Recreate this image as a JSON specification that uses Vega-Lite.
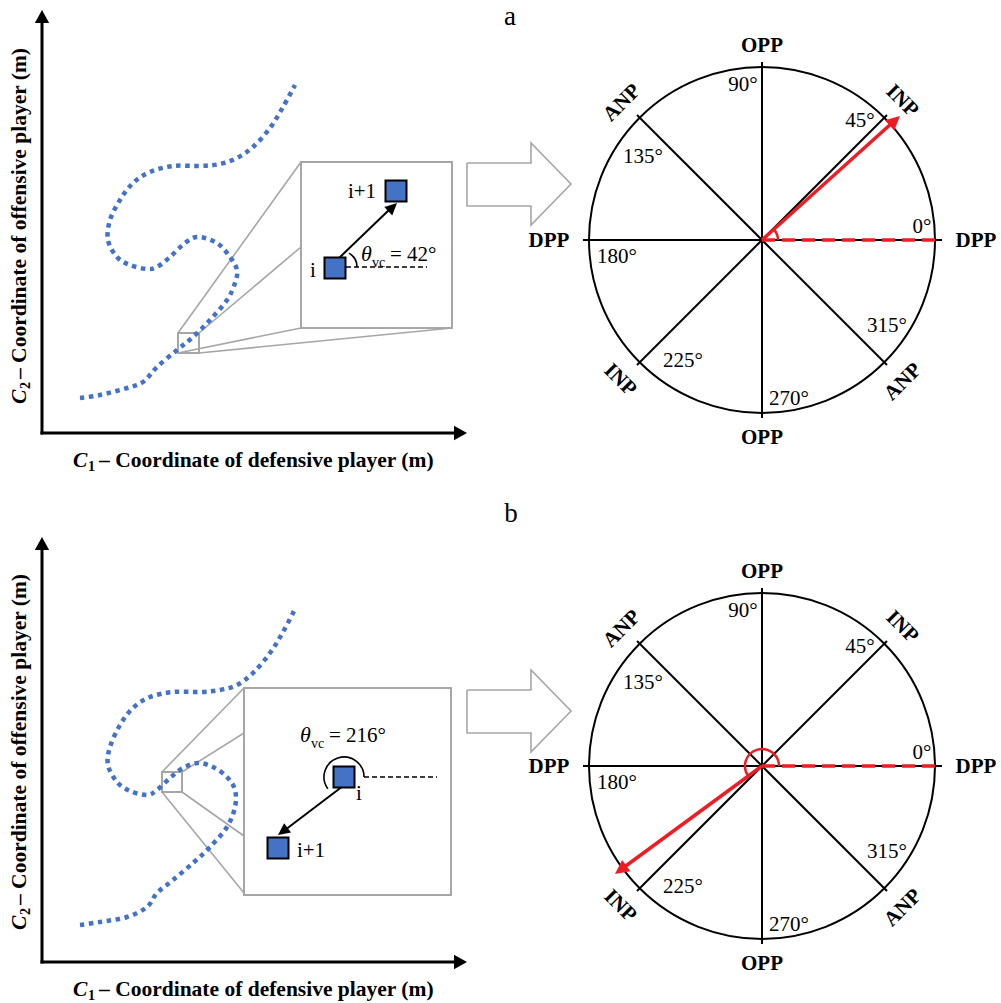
{
  "$schema": "https://vega.github.io/schema/vega-lite/v6.json",
  "width": 1001,
  "height": 1003,
  "autosize": {"type": "fit", "contains": "padding"},
  "padding": 0,
  "background": "white",
  "config": {"view": {"stroke": null}},
  "datasets": {
    "harrow": [
      {"panel": "a", "o": 0, "x": 467, "y": 163}, {"panel": "a", "o": 1, "x": 531, "y": 163}, {"panel": "a", "o": 2, "x": 531, "y": 143}, {"panel": "a", "o": 3, "x": 571, "y": 184}, {"panel": "a", "o": 4, "x": 531, "y": 225}, {"panel": "a", "o": 5, "x": 531, "y": 206}, {"panel": "a", "o": 6, "x": 467, "y": 206}, {"panel": "a", "o": 7, "x": 467, "y": 163},
      {"panel": "b", "o": 0, "x": 467, "y": 690}, {"panel": "b", "o": 1, "x": 531, "y": 690}, {"panel": "b", "o": 2, "x": 531, "y": 670}, {"panel": "b", "o": 3, "x": 571, "y": 711}, {"panel": "b", "o": 4, "x": 531, "y": 752}, {"panel": "b", "o": 5, "x": 531, "y": 733}, {"panel": "b", "o": 6, "x": 467, "y": 733}, {"panel": "b", "o": 7, "x": 467, "y": 690}
    ],
    "conn": [
      {"x": 178, "y": 333, "x2": 301, "y2": 162}, {"x": 199, "y": 333, "x2": 301, "y2": 247}, {"x": 178, "y": 353, "x2": 301, "y2": 328}, {"x": 199, "y": 353, "x2": 452, "y2": 328},
      {"x": 162, "y": 772, "x2": 244, "y2": 688}, {"x": 182, "y": 772, "x2": 244, "y2": 733}, {"x": 182, "y": 792, "x2": 244, "y2": 836}, {"x": 162, "y": 792, "x2": 244, "y2": 893}
    ],
    "boxes": [
      {"x": 178, "y": 333, "x2": 199, "y2": 353}, {"x": 301, "y": 162, "x2": 452, "y2": 328},
      {"x": 162, "y": 772, "x2": 182, "y2": 792}, {"x": 244, "y": 688, "x2": 451, "y2": 895}
    ],
    "curve": [
      {"panel": "a", "o": 0, "x": 80, "y": 398}, {"panel": "a", "o": 1, "x": 100, "y": 395}, {"panel": "a", "o": 2, "x": 127, "y": 388}, {"panel": "a", "o": 3, "x": 143, "y": 382}, {"panel": "a", "o": 4, "x": 157, "y": 367}, {"panel": "a", "o": 5, "x": 177, "y": 350}, {"panel": "a", "o": 6, "x": 193, "y": 337}, {"panel": "a", "o": 7, "x": 210, "y": 320}, {"panel": "a", "o": 8, "x": 227, "y": 300}, {"panel": "a", "o": 9, "x": 235, "y": 283}, {"panel": "a", "o": 10, "x": 237, "y": 270}, {"panel": "a", "o": 11, "x": 230, "y": 257}, {"panel": "a", "o": 12, "x": 217, "y": 243}, {"panel": "a", "o": 13, "x": 198, "y": 237}, {"panel": "a", "o": 14, "x": 185, "y": 243}, {"panel": "a", "o": 15, "x": 170, "y": 257}, {"panel": "a", "o": 16, "x": 157, "y": 267}, {"panel": "a", "o": 17, "x": 147, "y": 269}, {"panel": "a", "o": 18, "x": 130, "y": 265}, {"panel": "a", "o": 19, "x": 117, "y": 257}, {"panel": "a", "o": 20, "x": 108, "y": 240}, {"panel": "a", "o": 21, "x": 110, "y": 220}, {"panel": "a", "o": 22, "x": 120, "y": 200}, {"panel": "a", "o": 23, "x": 133, "y": 183}, {"panel": "a", "o": 24, "x": 150, "y": 172}, {"panel": "a", "o": 25, "x": 173, "y": 166}, {"panel": "a", "o": 26, "x": 200, "y": 166}, {"panel": "a", "o": 27, "x": 220, "y": 164}, {"panel": "a", "o": 28, "x": 237, "y": 158}, {"panel": "a", "o": 29, "x": 253, "y": 147}, {"panel": "a", "o": 30, "x": 270, "y": 128}, {"panel": "a", "o": 31, "x": 283, "y": 107}, {"panel": "a", "o": 32, "x": 295, "y": 85},
      {"panel": "b", "o": 0, "x": 80, "y": 925}, {"panel": "b", "o": 1, "x": 100, "y": 922}, {"panel": "b", "o": 2, "x": 127, "y": 917}, {"panel": "b", "o": 3, "x": 147, "y": 907}, {"panel": "b", "o": 4, "x": 157, "y": 893}, {"panel": "b", "o": 5, "x": 173, "y": 880}, {"panel": "b", "o": 6, "x": 193, "y": 863}, {"panel": "b", "o": 7, "x": 210, "y": 847}, {"panel": "b", "o": 8, "x": 227, "y": 827}, {"panel": "b", "o": 9, "x": 235, "y": 807}, {"panel": "b", "o": 10, "x": 235, "y": 790}, {"panel": "b", "o": 11, "x": 227, "y": 777}, {"panel": "b", "o": 12, "x": 213, "y": 767}, {"panel": "b", "o": 13, "x": 198, "y": 763}, {"panel": "b", "o": 14, "x": 183, "y": 768}, {"panel": "b", "o": 15, "x": 170, "y": 778}, {"panel": "b", "o": 16, "x": 157, "y": 790}, {"panel": "b", "o": 17, "x": 147, "y": 795}, {"panel": "b", "o": 18, "x": 130, "y": 791}, {"panel": "b", "o": 19, "x": 117, "y": 782}, {"panel": "b", "o": 20, "x": 108, "y": 765}, {"panel": "b", "o": 21, "x": 110, "y": 747}, {"panel": "b", "o": 22, "x": 120, "y": 725}, {"panel": "b", "o": 23, "x": 133, "y": 708}, {"panel": "b", "o": 24, "x": 150, "y": 697}, {"panel": "b", "o": 25, "x": 173, "y": 692}, {"panel": "b", "o": 26, "x": 200, "y": 692}, {"panel": "b", "o": 27, "x": 220, "y": 690}, {"panel": "b", "o": 28, "x": 237, "y": 685}, {"panel": "b", "o": 29, "x": 253, "y": 673}, {"panel": "b", "o": 30, "x": 270, "y": 653}, {"panel": "b", "o": 31, "x": 283, "y": 632}, {"panel": "b", "o": 32, "x": 295, "y": 609}
    ],
    "axes": [
      {"x": 42, "y": 433, "x2": 42, "y2": 22}, {"x": 42, "y": 433, "x2": 455, "y2": 433},
      {"x": 42, "y": 962, "x2": 42, "y2": 549}, {"x": 42, "y": 962, "x2": 455, "y2": 962}
    ],
    "axisHeads": [
      {"x": 42, "y": 10, "dir": 270}, {"x": 467, "y": 433, "dir": 0},
      {"x": 42, "y": 537, "dir": 270}, {"x": 467, "y": 962, "dir": 0}
    ],
    "squares": [
      {"x": 335, "y": 268}, {"x": 396, "y": 191}, {"x": 344, "y": 777}, {"x": 278, "y": 848}
    ],
    "insetDash": [
      {"x": 346, "y": 267, "x2": 427, "y2": 267}, {"x": 364, "y": 777, "x2": 437, "y2": 777}
    ],
    "insetShaft": [
      {"x": 338, "y": 259, "x2": 390, "y2": 209}, {"x": 343, "y": 786, "x2": 285, "y2": 830}
    ],
    "insetHeads": [
      {"x": 397, "y": 203, "dir": 316.5}, {"x": 278, "y": 835, "dir": 143}
    ],
    "insetArcs": [
      {"x": 341, "y": 267, "t0": 0.524, "t1": 1.571, "r": 16}, {"x": 344, "y": 777, "t0": -2.199, "t1": 1.571, "r": 20}
    ],
    "circles": [
      {"x": 762, "y": 240}, {"x": 762, "y": 766}
    ],
    "spokes": [
      {"x": 583, "y": 240, "x2": 942, "y2": 240}, {"x": 762, "y": 62, "x2": 762, "y2": 418}, {"x": 637, "y": 365, "x2": 887, "y2": 115}, {"x": 637, "y": 115, "x2": 887, "y2": 365},
      {"x": 583, "y": 766, "x2": 942, "y2": 766}, {"x": 762, "y": 588, "x2": 762, "y2": 944}, {"x": 637, "y": 891, "x2": 887, "y2": 641}, {"x": 637, "y": 641, "x2": 887, "y2": 891}
    ],
    "redDash": [
      {"x": 762, "y": 240, "x2": 937, "y2": 240}, {"x": 762, "y": 766, "x2": 937, "y2": 766}
    ],
    "redShaft": [
      {"x": 762, "y": 240, "x2": 892, "y2": 123}, {"x": 762, "y": 766, "x2": 623, "y2": 868}
    ],
    "redHeads": [
      {"x": 900, "y": 116, "dir": 318}, {"x": 615, "y": 874, "dir": 143.7}
    ],
    "redArcs": [
      {"x": 762, "y": 240, "t0": 0.838, "t1": 1.571, "r": 16}, {"x": 762, "y": 766, "t0": -2.199, "t1": 1.571, "r": 17}
    ],
    "boldLabels": [
      {"x": 762, "y": 46, "t": "OPP", "a": 0}, {"x": 762, "y": 438, "t": "OPP", "a": 0}, {"x": 549, "y": 241, "t": "DPP", "a": 0}, {"x": 976, "y": 241, "t": "DPP", "a": 0},
      {"x": 622, "y": 103, "t": "ANP", "a": 315}, {"x": 902, "y": 101, "t": "INP", "a": 45}, {"x": 620, "y": 380, "t": "INP", "a": 45}, {"x": 903, "y": 382, "t": "ANP", "a": 315},
      {"x": 762, "y": 572, "t": "OPP", "a": 0}, {"x": 762, "y": 964, "t": "OPP", "a": 0}, {"x": 549, "y": 767, "t": "DPP", "a": 0}, {"x": 976, "y": 767, "t": "DPP", "a": 0},
      {"x": 622, "y": 629, "t": "ANP", "a": 315}, {"x": 902, "y": 627, "t": "INP", "a": 45}, {"x": 620, "y": 906, "t": "INP", "a": 45}, {"x": 903, "y": 908, "t": "ANP", "a": 315}
    ],
    "degLabels": [
      {"x": 743, "y": 91, "t": "90°"}, {"x": 860, "y": 127, "t": "45°"}, {"x": 643, "y": 163, "t": "135°"}, {"x": 922, "y": 233, "t": "0°"}, {"x": 617, "y": 263, "t": "180°"}, {"x": 887, "y": 332, "t": "315°"}, {"x": 683, "y": 367, "t": "225°"}, {"x": 789, "y": 405, "t": "270°"},
      {"x": 743, "y": 617, "t": "90°"}, {"x": 860, "y": 653, "t": "45°"}, {"x": 643, "y": 689, "t": "135°"}, {"x": 922, "y": 759, "t": "0°"}, {"x": 617, "y": 789, "t": "180°"}, {"x": 887, "y": 858, "t": "315°"}, {"x": 683, "y": 893, "t": "225°"}, {"x": 789, "y": 931, "t": "270°"}
    ],
    "insetText": [
      {"x": 313, "y": 277, "t": "i"}, {"x": 362, "y": 198, "t": "i+1"}, {"x": 359, "y": 800, "t": "i"}, {"x": 311, "y": 857, "t": "i+1"}
    ],
    "thetaText": [
      {"x": 361, "y": 261, "t": "θ"}, {"x": 300, "y": 742, "t": "θ"}
    ],
    "subText": [
      {"x": 372, "y": 267, "t": "vc"}, {"x": 311, "y": 748, "t": "vc"}
    ],
    "eqText": [
      {"x": 390, "y": 261, "t": "= 42°"}, {"x": 329, "y": 742, "t": "= 216°"}
    ],
    "axisC": [
      {"x": 73, "y": 467, "t": "C", "a": 0}, {"x": 26, "y": 404, "t": "C", "a": 270},
      {"x": 73, "y": 996, "t": "C", "a": 0}, {"x": 26, "y": 930, "t": "C", "a": 270}
    ],
    "axisSub": [
      {"x": 88, "y": 471, "t": "1", "a": 0}, {"x": 30, "y": 389, "t": "2", "a": 270},
      {"x": 88, "y": 1000, "t": "1", "a": 0}, {"x": 30, "y": 915, "t": "2", "a": 270}
    ],
    "axisMain": [
      {"x": 99, "y": 467, "t": "– Coordinate of defensive player (m)", "a": 0}, {"x": 26, "y": 379, "t": "– Coordinate of offensive player (m)", "a": 270},
      {"x": 99, "y": 996, "t": "– Coordinate of defensive player (m)", "a": 0}, {"x": 26, "y": 905, "t": "– Coordinate of offensive player (m)", "a": 270}
    ],
    "panelLetters": [
      {"x": 510, "y": 17, "t": "a"}, {"x": 511, "y": 514, "t": "b"}
    ]
  },
  "encoding": {
    "x": {"field": "x", "type": "quantitative", "scale": {"domain": [0, 1001], "nice": false, "zero": false}, "axis": null},
    "y": {"field": "y", "type": "quantitative", "scale": {"domain": [0, 1003], "nice": false, "zero": false, "reverse": true}, "axis": null}
  },
  "layer": [
    {"data": {"name": "boxes"}, "mark": {"type": "rect", "fillOpacity": 0, "stroke": "#A6A6A6", "strokeWidth": 2}, "encoding": {"x2": {"field": "x2"}, "y2": {"field": "y2"}}},
    {"data": {"name": "conn"}, "mark": {"type": "rule", "color": "#A6A6A6", "strokeWidth": 1.6}, "encoding": {"x2": {"field": "x2"}, "y2": {"field": "y2"}}},
    {"data": {"name": "harrow"}, "mark": {"type": "line", "color": "#A6A6A6", "strokeWidth": 1.6, "strokeJoin": "miter"}, "encoding": {"detail": {"field": "panel"}, "order": {"field": "o", "type": "quantitative"}}},
    {"data": {"name": "curve"}, "mark": {"type": "line", "color": "#4472C4", "strokeWidth": 4.5, "strokeDash": [4.5, 4.5], "interpolate": "cardinal"}, "encoding": {"detail": {"field": "panel"}, "order": {"field": "o", "type": "quantitative"}}},
    {"data": {"name": "axes"}, "mark": {"type": "rule", "color": "black", "strokeWidth": 3, "strokeCap": "square"}, "encoding": {"x2": {"field": "x2"}, "y2": {"field": "y2"}}},
    {"data": {"name": "axisHeads"}, "mark": {"type": "point", "shape": "M0,0L-1,-0.55L-1,0.55Z", "filled": true, "color": "black", "opacity": 1, "size": 676}, "encoding": {"angle": {"field": "dir", "type": "quantitative", "scale": null}}},
    {"data": {"name": "insetDash"}, "mark": {"type": "rule", "color": "black", "strokeWidth": 1.5, "strokeDash": [5, 3]}, "encoding": {"x2": {"field": "x2"}, "y2": {"field": "y2"}}},
    {"data": {"name": "insetShaft"}, "mark": {"type": "rule", "color": "black", "strokeWidth": 2}, "encoding": {"x2": {"field": "x2"}, "y2": {"field": "y2"}}},
    {"data": {"name": "insetHeads"}, "mark": {"type": "point", "shape": "M0,0L-1,-0.48L-1,0.48Z", "filled": true, "color": "black", "opacity": 1, "size": 576}, "encoding": {"angle": {"field": "dir", "type": "quantitative", "scale": null}}},
    {"data": {"name": "insetArcs"}, "mark": {"type": "arc", "filled": false, "stroke": "black", "strokeWidth": 1.6}, "encoding": {"theta": {"field": "t0", "type": "quantitative", "scale": null, "stack": null}, "theta2": {"field": "t1"}, "radius": {"field": "r", "type": "quantitative", "scale": null}, "radius2": {"field": "r"}}},
    {"data": {"name": "squares"}, "mark": {"type": "point", "shape": "square", "filled": true, "fill": "#4472C4", "stroke": "black", "strokeWidth": 2, "opacity": 1, "size": 441}},
    {"data": {"name": "circles"}, "mark": {"type": "point", "shape": "circle", "filled": false, "stroke": "black", "strokeWidth": 2, "opacity": 1, "size": 119716}},
    {"data": {"name": "spokes"}, "mark": {"type": "rule", "color": "black", "strokeWidth": 2}, "encoding": {"x2": {"field": "x2"}, "y2": {"field": "y2"}}},
    {"data": {"name": "redDash"}, "mark": {"type": "rule", "color": "#EE1D23", "strokeWidth": 3.5, "strokeDash": [13, 7]}, "encoding": {"x2": {"field": "x2"}, "y2": {"field": "y2"}}},
    {"data": {"name": "redShaft"}, "mark": {"type": "rule", "color": "#EE1D23", "strokeWidth": 3.5}, "encoding": {"x2": {"field": "x2"}, "y2": {"field": "y2"}}},
    {"data": {"name": "redHeads"}, "mark": {"type": "point", "shape": "M0,0L-1,-0.5L-1,0.5Z", "filled": true, "color": "#EE1D23", "opacity": 1, "size": 784}, "encoding": {"angle": {"field": "dir", "type": "quantitative", "scale": null}}},
    {"data": {"name": "redArcs"}, "mark": {"type": "arc", "filled": false, "stroke": "#EE1D23", "strokeWidth": 2.5}, "encoding": {"theta": {"field": "t0", "type": "quantitative", "scale": null, "stack": null}, "theta2": {"field": "t1"}, "radius": {"field": "r", "type": "quantitative", "scale": null}, "radius2": {"field": "r"}}},
    {"data": {"name": "boldLabels"}, "mark": {"type": "text", "font": "Liberation Serif", "fontWeight": "bold", "fontSize": 21, "align": "center", "baseline": "middle", "color": "black"}, "encoding": {"text": {"field": "t"}, "angle": {"field": "a", "type": "quantitative", "scale": null}}},
    {"data": {"name": "degLabels"}, "mark": {"type": "text", "font": "Liberation Serif", "fontSize": 21, "align": "center", "baseline": "alphabetic", "color": "black"}, "encoding": {"text": {"field": "t"}}},
    {"data": {"name": "insetText"}, "mark": {"type": "text", "font": "Liberation Serif", "fontSize": 21, "align": "center", "baseline": "alphabetic", "color": "black"}, "encoding": {"text": {"field": "t"}}},
    {"data": {"name": "thetaText"}, "mark": {"type": "text", "font": "Liberation Serif", "fontStyle": "italic", "fontSize": 22, "align": "left", "baseline": "alphabetic", "color": "black"}, "encoding": {"text": {"field": "t"}}},
    {"data": {"name": "subText"}, "mark": {"type": "text", "font": "Liberation Serif", "fontSize": 14, "align": "left", "baseline": "alphabetic", "color": "black"}, "encoding": {"text": {"field": "t"}}},
    {"data": {"name": "eqText"}, "mark": {"type": "text", "font": "Liberation Serif", "fontSize": 21, "align": "left", "baseline": "alphabetic", "color": "black"}, "encoding": {"text": {"field": "t"}}},
    {"data": {"name": "axisC"}, "mark": {"type": "text", "font": "Liberation Serif", "fontWeight": "bold", "fontStyle": "italic", "fontSize": 21.5, "align": "left", "baseline": "alphabetic", "color": "black"}, "encoding": {"text": {"field": "t"}, "angle": {"field": "a", "type": "quantitative", "scale": null}}},
    {"data": {"name": "axisSub"}, "mark": {"type": "text", "font": "Liberation Serif", "fontWeight": "bold", "fontSize": 14, "align": "left", "baseline": "alphabetic", "color": "black"}, "encoding": {"text": {"field": "t"}, "angle": {"field": "a", "type": "quantitative", "scale": null}}},
    {"data": {"name": "axisMain"}, "mark": {"type": "text", "font": "Liberation Serif", "fontWeight": "bold", "fontSize": 21.5, "align": "left", "baseline": "alphabetic", "color": "black"}, "encoding": {"text": {"field": "t"}, "angle": {"field": "a", "type": "quantitative", "scale": null}}},
    {"data": {"name": "panelLetters"}, "mark": {"type": "text", "font": "Liberation Serif", "fontSize": 27, "align": "center", "baseline": "middle", "color": "black"}, "encoding": {"text": {"field": "t"}}}
  ]
}
